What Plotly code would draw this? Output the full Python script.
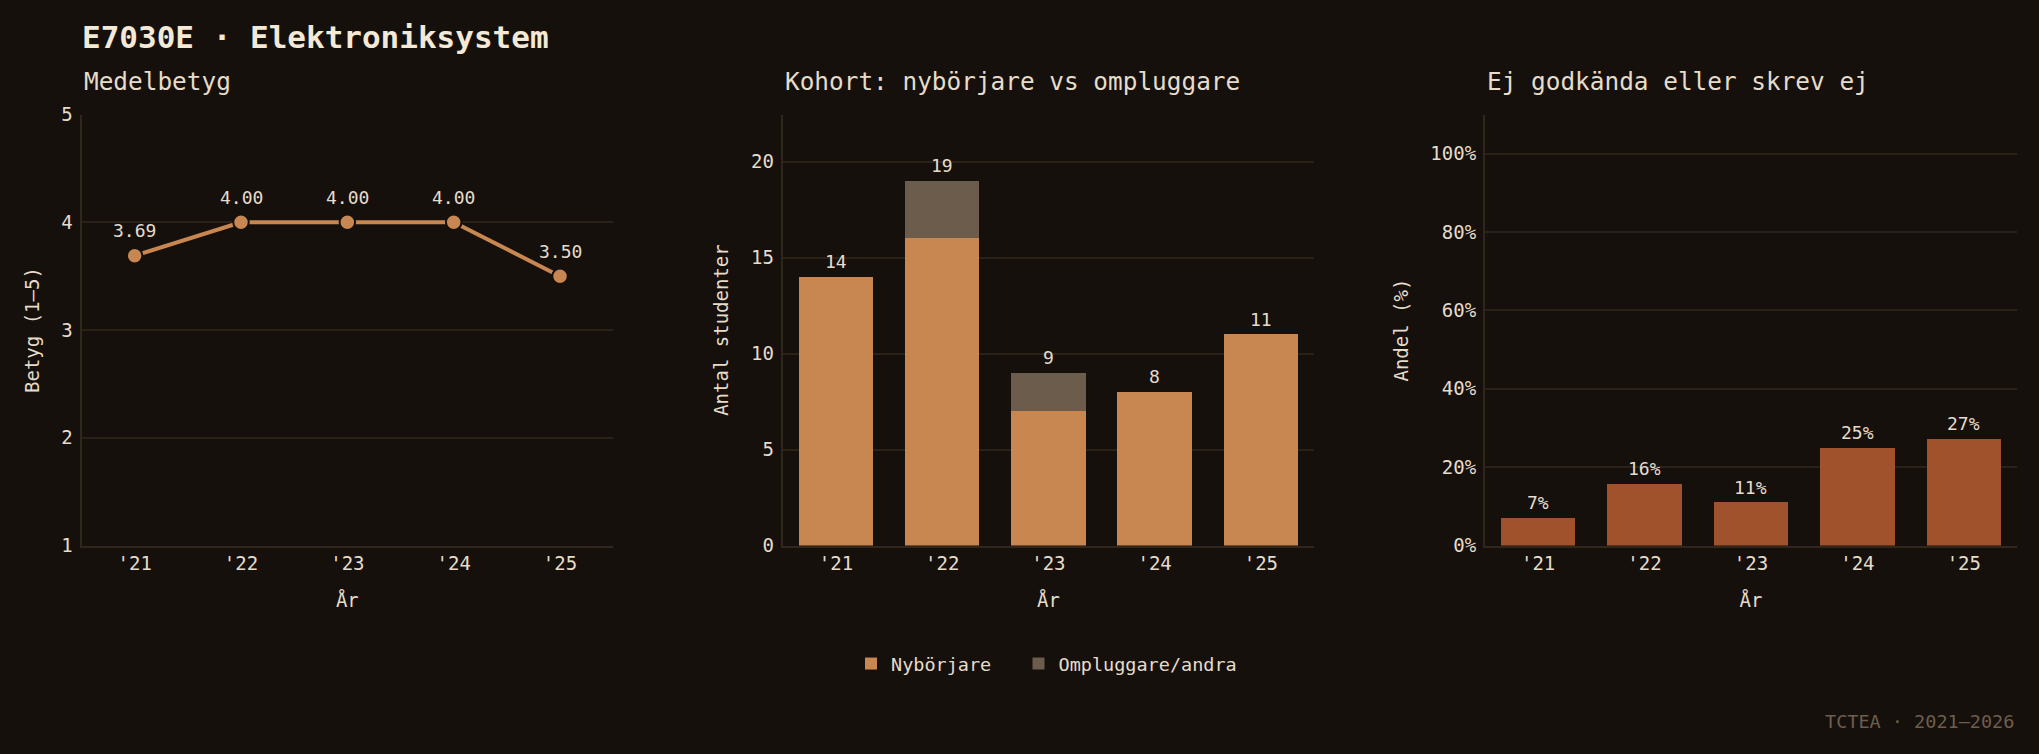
import plotly.graph_objects as go

# ---- data ----
years = ["'21", "'22", "'23", "'24", "'25"]
mean_grade = [3.69, 4.00, 4.00, 4.00, 3.50]
nyborjare = [14, 16, 7, 8, 11]
ompluggare = [0, 3, 2, 0, 0]
fail_share = [7.1, 15.8, 11.1, 25.0, 27.3]

# ---- style ----
BG = "#15100c"
TXT = "#e6dccb"
TITLE = "#f3e9d6"
GRID = "#2a2119"
AXIS = "#30261c"
ORANGE = "#c88650"
GREY = "#6b5c4b"
SIENNA = "#a0522d"
MUTED = "#6e5e4c"
FONT = "DejaVu Sans Mono"

W, H = 2039, 754
def px(x):
    return x / W
def py(y):
    return 1 - y / H

ydom = [py(545.6), py(114.5)]
dom1 = [px(81.5), px(613.2)]
dom2 = [px(782.8), px(1314.0)]
dom3 = [px(1484.9), px(2017.0)]

fig = go.Figure()

fig.add_trace(go.Scatter(
    x=years, y=mean_grade, xaxis="x", yaxis="y", mode="lines+markers",
    line=dict(color=ORANGE, width=4),
    marker=dict(size=15.5, color=ORANGE, line=dict(color=BG, width=2)),
    showlegend=False, hoverinfo="x+y"))

fig.add_trace(go.Bar(
    x=years, y=nyborjare, xaxis="x2", yaxis="y2", name="Nybörjare",
    legend="legend",
    marker=dict(color=ORANGE, line=dict(width=0))))
fig.add_trace(go.Bar(
    x=years, y=ompluggare, xaxis="x2", yaxis="y2", name="Ompluggare/andra",
    legend="legend2",
    marker=dict(color=GREY, line=dict(width=0))))

fig.add_trace(go.Bar(
    x=years, y=fail_share, xaxis="x3", yaxis="y3", name="Andel",
    marker=dict(color=SIENNA, line=dict(width=0)), showlegend=False))

annotations = []
for yr, v in zip(years, mean_grade):
    annotations.append(dict(x=yr, y=v, xref="x", yref="y", text=f"{v:.2f}",
                            showarrow=False, yshift=25,
                            font=dict(family=FONT, size=18, color=TXT)))
for yr, a, b in zip(years, nyborjare, ompluggare):
    annotations.append(dict(x=yr, y=a + b, xref="x2", yref="y2", text=str(a + b),
                            showarrow=False, yshift=15,
                            font=dict(family=FONT, size=18, color=TXT)))
for yr, v in zip(years, fail_share):
    annotations.append(dict(x=yr, y=v, xref="x3", yref="y3", text=f"{v:.0f}%",
                            showarrow=False, yshift=15,
                            font=dict(family=FONT, size=18, color=TXT)))

# panel titles
for d, t in [(dom1, "Medelbetyg"), (dom2, "Kohort: nybörjare vs ompluggare"),
             (dom3, "Ej godkända eller skrev ej")]:
    annotations.append(dict(x=d[0], y=py(81), xref="paper", yref="paper", text=t,
                            showarrow=False, xanchor="left", yanchor="middle",
                            font=dict(family=FONT, size=24.4, color=TXT)))

annotations.append(dict(x=px(2016), y=py(721), xref="paper", yref="paper",
                        text="TCTEA · 2021–2026", showarrow=False,
                        xanchor="right", yanchor="middle",
                        font=dict(family=FONT, size=18.5, color=MUTED)))

tickfont = dict(family=FONT, size=19, color=TXT)
titlefont = dict(family=FONT, size=19, color=TXT)

def xax(dom, anchor):
    return dict(domain=dom, anchor=anchor, type="category", range=[-0.5, 4.5],
                showline=True, linecolor=AXIS, linewidth=2, showgrid=False,
                zeroline=False, ticks="", tickfont=tickfont, automargin=False,
                ticklabelstandoff=0,
                title=dict(text="År", font=titlefont, standoff=20))

def yax(dom, anchor, rng, dtick, title, suffix=""):
    return dict(domain=dom, anchor=anchor, range=rng, dtick=dtick, tick0=0,
                showline=True, linecolor=AXIS, linewidth=2, showgrid=True,
                gridcolor=GRID, gridwidth=1.5, zeroline=False, ticks="",
                automargin=False,
                tickfont=tickfont, ticksuffix=suffix, ticklabelstandoff=3,
                title=dict(text=title, font=titlefont, standoff=17))

legend_style = dict(orientation="h", xanchor="left", y=py(664), yanchor="middle",
                    font=dict(family=FONT, size=18.5, color=TXT),
                    bgcolor="rgba(0,0,0,0)", borderwidth=0)

fig.update_layout(
    width=W, height=H,
    margin=dict(l=0, r=0, t=0, b=0, autoexpand=False),
    paper_bgcolor=BG, plot_bgcolor=BG,
    font=dict(family=FONT, color=TXT),
    barmode="stack", bargap=0.3,
    title=dict(text="<b>E7030E · Elektroniksystem</b>", x=px(82), xanchor="left",
               y=py(37), yanchor="middle", xref="paper", yref="paper",
               font=dict(family=FONT, size=31, color=TITLE)),
    xaxis=xax(dom1, "y"),
    yaxis=yax(ydom, "x", [1, 5], 1, "Betyg (1–5)"),
    xaxis2=xax(dom2, "y2"),
    yaxis2=yax(ydom, "x2", [0, 22.45], 5, "Antal studenter"),
    xaxis3=xax(dom3, "y3"),
    yaxis3=yax(ydom, "x3", [0, 110], 20, "Andel (%)", "%"),
    legend=dict(legend_style, x=px(851)),
    legend2=dict(legend_style, x=px(1018.5)),
    annotations=annotations,
    showlegend=True,
)

fig.write_html("out.html")
